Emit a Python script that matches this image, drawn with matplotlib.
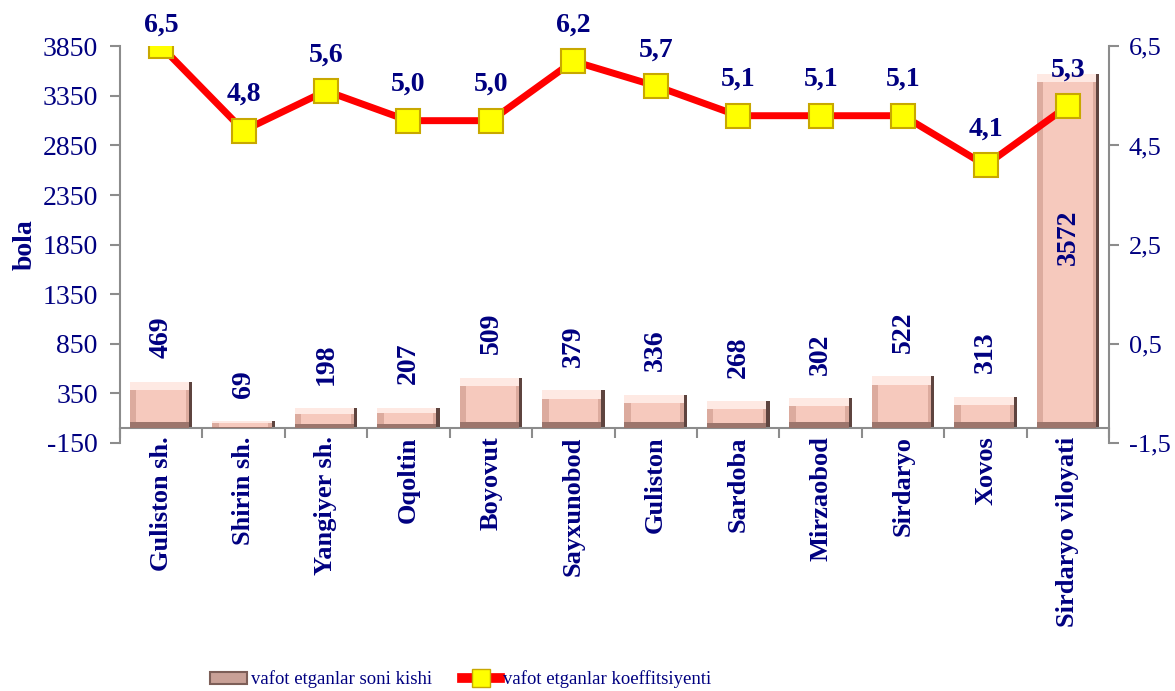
import matplotlib
matplotlib.use("Agg")
import matplotlib.pyplot as plt
import numpy as np
from matplotlib.patches import Rectangle
from matplotlib.lines import Line2D

categories = ["Guliston sh.", "Shirin sh.", "Yangiyer sh.", "Oqoltin", "Boyovut",
              "Sayxunobod", "Guliston", "Sardoba", "Mirzaobod", "Sirdaryo",
              "Xovos", "Sirdaryo viloyati"]
deaths = [469, 69, 198, 207, 509, 379, 336, 268, 302, 522, 313, 3572]
coef = [6.5, 4.8, 5.6, 5.0, 5.0, 6.2, 5.7, 5.1, 5.1, 5.1, 4.1, 5.3]

left_ticks = [-150, 350, 850, 1350, 1850, 2350, 2850, 3350, 3850]
right_ticks = [-1.5, 0.5, 2.5, 4.5, 6.5]

NAVY = "#000080"
GRAY = "#8c8c8c"
FONT = "Liberation Serif"

plt.rcParams["font.family"] = [FONT, "DejaVu Serif"]


def bevel_bars(ax, x, vals, w):
    # rough bevel: dark right edge, brown bottom, light top, pink face
    bx = 0.08
    rx = 0.04
    by = np.minimum(85, vals * 0.28)
    bb = np.minimum(60, vals * 0.2)
    left = x - w / 2
    ax.bar(left, vals, width=w, align="edge", color="#5e443f", zorder=2)
    ax.bar(left, vals, width=w - rx, align="edge", color="#9c756c", zorder=3)
    ax.bar(left, vals - bb, bottom=bb, width=w - rx, align="edge",
           color="#dcab9e", zorder=4)
    ax.bar(left, by, bottom=vals - by, width=w - rx, align="edge",
           color="#fee9e3", zorder=5)
    ax.bar(left + bx, vals - by - bb, bottom=bb, width=w - 2 * bx,
           align="edge", color="#f6c9bd", zorder=6)


def main():
    fig = plt.figure(figsize=(11.75, 6.91), dpi=100)
    ax = fig.add_axes([0.102, 0.359, 0.842, 0.574])
    ax2 = ax.twinx()

    x = np.arange(len(categories))
    vals = np.array(deaths, dtype=float)
    bevel_bars(ax, x, vals, 0.76)

    for i, v in enumerate(deaths):
        if v > 3000:
            ax.text(x[i], v * 0.54, str(v), rotation=90, ha="center",
                    va="center", fontsize=20, fontweight="bold", color=NAVY,
                    zorder=8)
        else:
            ax.annotate(str(v), (x[i], v), xytext=(0, 17),
                        textcoords="offset points", rotation=90, ha="center",
                        va="bottom", fontsize=20, fontweight="bold",
                        color=NAVY, zorder=8)

    ax.set_xlim(-0.5, len(categories) - 0.5)
    ax.set_ylim(-150, 3850)
    ax.set_yticks(left_ticks)
    ax.set_yticklabels([str(t) for t in left_ticks])
    ax.set_ylabel("bola", fontsize=20, fontweight="bold", color=NAVY,
                  labelpad=3)

    ax.spines["bottom"].set_position(("data", 0))
    ax.spines["top"].set_visible(False)
    ax.spines["right"].set_visible(False)
    for s in ["left", "bottom"]:
        ax.spines[s].set_color(GRAY)
        ax.spines[s].set_linewidth(1.5)
    ax.set_xticks(x)
    ax.set_xticklabels(categories, rotation=90, fontsize=19,
                       fontweight="bold", color=NAVY)
    ax.set_xticks(np.arange(len(categories) + 1) - 0.5, minor=True)
    ax.tick_params(axis="x", which="major", length=0, pad=6)
    ax.tick_params(axis="x", which="minor", length=7, color=GRAY, width=1.5)
    ax.tick_params(axis="y", labelsize=20, labelcolor=NAVY, color=GRAY,
                   length=7, width=1.5, pad=9)

    ax2.plot(x, coef, color="#ff0000", lw=5, marker="s", markersize=17,
             markerfacecolor="#ffff00", markeredgecolor="#c8a800",
             markeredgewidth=1.5, zorder=5, solid_capstyle="round")
    ax2.set_ylim(-1.5, 6.5)
    ax2.set_yticks(right_ticks)
    ax2.set_yticklabels([str(t).replace(".", ",") for t in right_ticks])
    for s in ["left", "top", "bottom"]:
        ax2.spines[s].set_visible(False)
    ax2.spines["right"].set_color(GRAY)
    ax2.spines["right"].set_linewidth(1.5)
    ax2.tick_params(axis="y", labelsize=19, labelcolor=NAVY, color=GRAY,
                    length=7, width=1.5, pad=7)

    top = max(coef)
    for i, c in enumerate(coef):
        off = 15 if c == top else 26
        ax2.annotate("{:.1f}".format(c).replace(".", ","), (x[i], c),
                     xytext=(0, off), textcoords="offset points",
                     ha="center", va="center", fontsize=20,
                     fontweight="bold", color=NAVY, zorder=7)

    ax.set_zorder(ax2.get_zorder() - 1)
    ax.patch.set_visible(False)
    ax2.patch.set_visible(False)

    handles = [
        Rectangle((0, 0), 1, 1, facecolor="#c9a197", edgecolor="#7d5f58",
                  linewidth=1.5),
        Line2D([], [], color="#ff0000", lw=7, marker="s", markersize=13,
               markerfacecolor="#ffff00", markeredgecolor="#c8a800"),
    ]
    fig.legend(handles, ["vafot etganlar soni kishi",
                         "vafot etganlar koeffitsiyenti"],
               loc="center", bbox_to_anchor=(0.392, 0.017), ncol=2,
               frameon=False, fontsize=13.5, labelcolor=NAVY,
               handlelength=2.0, handleheight=0.6, handletextpad=0.2,
               columnspacing=1.6)

    fig.savefig("out.png", dpi=100, facecolor="white")


if __name__ == "__main__":
    main()
